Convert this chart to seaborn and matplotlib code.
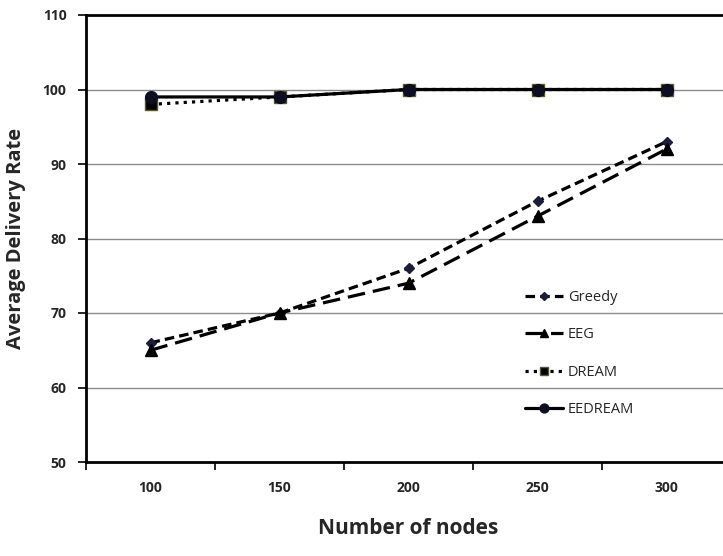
import pandas as pd
import matplotlib
matplotlib.use("Agg")
import matplotlib.pyplot as plt
import seaborn as sns
from matplotlib.ticker import FixedLocator

nodes = ["100", "150", "200", "250", "300"]
greedy = [66, 70, 76, 85, 93]
eeg = [65, 70, 74, 83, 92]
dream = [98, 99, 100, 100, 100]
eedream = [99, 99, 100, 100, 100]

sns.set_style("white")
plt.rcParams["font.family"] = ["Open Sans", "DejaVu Sans"]

fig = plt.figure(figsize=(7.23, 5.56), dpi=100)
ax = fig.add_axes([86 / 723, 1 - 462 / 556, 645 / 723, 447 / 556])

# gridlines
for v in [60, 70, 80, 90, 100]:
    ax.axhline(v, color="#8c8c8c", lw=1.0, zorder=0)

styles = [
    ("Greedy", greedy, (0, (3, 1.6)), "D", 5, "#1c1c3c", "#1c1c3c"),
    ("EEG", eeg, (0, (5.5, 2.5)), "^", 8, "black", "black"),
    ("DREAM", dream, (0, (1, 1.6)), "s", 8, "black", "#5a5a28"),
    ("EEDREAM", eedream, "-", "o", 8.5, "#0e0e22", "#0e0e22"),
]

for name, vals, ls, mk, ms, fc, ec in styles:
    df = pd.DataFrame({"nodes": nodes, "rate": vals})
    sns.lineplot(data=df, x="nodes", y="rate", ax=ax, color="black", lw=2.3,
                 linestyle=ls, marker=mk, markersize=ms, markerfacecolor=fc,
                 markeredgecolor=ec, markeredgewidth=1.0, label=name)

ax.set_xlim(-0.5, 4.5)
ax.set_ylim(50, 110)
ax.set_yticks([50, 60, 70, 80, 90, 100, 110])
ax.set_xticks(range(len(nodes)))
ax.set_xticklabels(nodes)
ax.xaxis.set_minor_locator(FixedLocator([i - 0.5 for i in range(len(nodes) + 1)]))
ax.tick_params(axis="x", which="major", length=0, pad=14)
ax.tick_params(axis="x", which="minor", length=6, width=1.2, color="black", direction="out", bottom=True)
ax.tick_params(axis="y", length=6, width=1.2, color="black", direction="out", left=True, pad=8)
for lab in ax.get_xticklabels() + ax.get_yticklabels():
    lab.set_fontweight("bold")
    lab.set_fontsize(10)

for s in ["left", "bottom", "top"]:
    ax.spines[s].set_visible(True)
    ax.spines[s].set_color("black")
    ax.spines[s].set_linewidth(2)
ax.spines["right"].set_visible(False)

ax.set_xlabel("Number of nodes", fontsize=15, fontweight="bold", labelpad=16)
ax.set_ylabel("Average Delivery Rate", fontsize=14.5, fontweight="bold", labelpad=12)

leg = ax.legend(loc="upper left", bbox_to_anchor=(0.66, 0.415), frameon=False,
                fontsize=10.5, handlelength=2.6, labelspacing=1.55, handletextpad=0.35,
                markerscale=0.75)

fig.savefig("out.png", dpi=100)
